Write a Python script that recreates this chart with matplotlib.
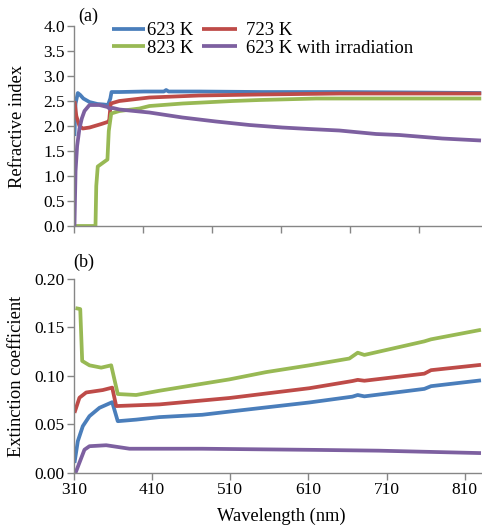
import matplotlib
matplotlib.use("Agg")
import matplotlib.pyplot as plt

plt.rcParams['font.family'] = ['Liberation Serif', 'DejaVu Serif']

# ---- (a) refractive index ----
wl_n_623 = [310.6, 312, 314.9, 318, 322, 329.8, 340, 348, 353.5, 356.5, 358, 368, 400, 425, 427.9, 431, 470, 550, 650, 750, 831]
n_623 = [1.8, 2.45, 2.66, 2.62, 2.55, 2.48, 2.44, 2.43, 2.42, 2.55, 2.68, 2.68, 2.69, 2.69, 2.72, 2.69, 2.69, 2.68, 2.68, 2.67, 2.66]

wl_n_723 = [310.6, 313, 317, 321.3, 330, 345, 352.8, 355, 357, 368, 406.5, 470, 547, 650, 831]
n_723 = [2.5, 2.2, 2.0, 1.95, 1.97, 2.04, 2.08, 2.1, 2.45, 2.5, 2.57, 2.61, 2.63, 2.65, 2.65]

wl_n_823 = [310.6, 337.5, 338.5, 340.4, 352.8, 354.5, 357.6, 368, 393.8, 406.5, 448.8, 512.7, 547, 620, 831]
n_823 = [0, 0, 0.8, 1.19, 1.33, 1.9, 2.25, 2.3, 2.35, 2.40, 2.45, 2.50, 2.52, 2.55, 2.55]

wl_n_irr = [310.6, 312, 314, 317, 320, 323.4, 329.8, 342.6, 352.8, 355.4, 360, 368.2, 406.5, 448.8, 491.8, 534.4, 576.6, 611.2, 649.5, 696.5, 726.3, 781.2, 830.7]
n_irr = [0, 1.1, 1.6, 1.95, 2.15, 2.3, 2.42, 2.42, 2.38, 2.35, 2.36, 2.33, 2.27, 2.17, 2.09, 2.02, 1.97, 1.94, 1.91, 1.84, 1.82, 1.75, 1.71]

# ---- (b) extinction coefficient ----
wl_k_623 = [310.6, 314.9, 321.3, 329.8, 342.6, 358.9, 366, 389.5, 419.3, 474, 508.9, 611.2, 666.2, 673, 681.5, 758.2, 766.8, 830.7]
k_623 = [0.0103, 0.0328, 0.0483, 0.0586, 0.0672, 0.073, 0.0534, 0.055, 0.0576, 0.060, 0.0633, 0.0727, 0.0787, 0.0804, 0.079, 0.0867, 0.0895, 0.0955]

wl_k_723 = [310.6, 317, 325.6, 346.8, 358.9, 364, 419.3, 508.9, 611.2, 666.2, 673, 681.5, 758.2, 766.8, 830.7]
k_723 = [0.062, 0.0776, 0.083, 0.0855, 0.088, 0.069, 0.0707, 0.0773, 0.0874, 0.0948, 0.096, 0.0951, 0.1024, 0.106, 0.1115]

wl_k_823 = [311.9, 318, 320.5, 329.8, 344.8, 357.6, 366, 389.5, 419.3, 474.3, 508.9, 555.8, 611.2, 662.3, 673, 681.5, 758.2, 766.8, 830.7]
k_823 = [0.170, 0.169, 0.1155, 0.111, 0.1086, 0.111, 0.0814, 0.0804, 0.0848, 0.092, 0.0965, 0.104, 0.111, 0.118, 0.124, 0.1217, 0.1357, 0.1378, 0.1476]

wl_k_irr = [311.9, 323.4, 329.8, 351.2, 381, 419.3, 474, 619.7, 700, 830.7]
k_irr = [0, 0.024, 0.0276, 0.0286, 0.025, 0.025, 0.025, 0.0238, 0.023, 0.0205]

labels = ["623 K", "723 K", "823 K", "623 K with irradiation"]
colors = ["#4A7EBB", "#BE4B48", "#98B954", "#7D60A0"]

top_ticks = [310 + 88.2 * i for i in range(6)]
bottom_ticks = [310, 410, 510, 610, 710, 810]

fig = plt.figure(figsize=(4.82, 5.29), dpi=100)
ax1 = fig.add_axes([0.1535, 0.5728, 0.8465, 0.3780])
ax2 = fig.add_axes([0.1535, 0.1059, 0.8465, 0.3667])

lw = 2.7
h = []
for wl, v, c in zip([wl_n_623, wl_n_723, wl_n_823, wl_n_irr], [n_623, n_723, n_823, n_irr], colors):
    line, = ax1.plot(wl, v, color=c, lw=lw, solid_capstyle='butt')
    h.append(line)
for wl, v, c in zip([wl_k_623, wl_k_723, wl_k_823, wl_k_irr], [k_623, k_723, k_823, k_irr], colors):
    ax2.plot(wl, v, color=c, lw=lw, solid_capstyle='butt')

for ax in (ax1, ax2):
    ax.set_xlim(310, 832)
    for s in ('top', 'right'):
        ax.spines[s].set_visible(False)
    for s in ('left', 'bottom'):
        ax.spines[s].set_color('#868686')
        ax.spines[s].set_linewidth(1.0)
    ax.tick_params(direction='out', length=5, width=1.0, color='#868686', labelsize=12.5, pad=1.5)

ax1.set_ylim(0, 4.0)
ax1.set_yticks([0, 0.5, 1.0, 1.5, 2.0, 2.5, 3.0, 3.5, 4.0])
ax1.set_yticklabels([f"{v:.1f}" for v in ax1.get_yticks()])
ax1.set_xticks(top_ticks)
ax1.set_xticklabels([])
ax1.set_ylabel("Refractive index", fontsize=13.3)
ax1.yaxis.set_label_coords(-0.118, 0.5)

ax2.set_ylim(0, 0.20)
ax2.set_yticks([0, 0.05, 0.10, 0.15, 0.20])
ax2.set_yticklabels([f"{v:.2f}" for v in ax2.get_yticks()])
ax2.set_xticks(bottom_ticks)
ax2.set_ylabel("Extinction coefficient", fontsize=13.3)
ax2.yaxis.set_label_coords(-0.12, 0.5)
ax2.set_xlabel("Wavelength (nm)", fontsize=13.3)
ax2.xaxis.set_label_coords(0.507, -0.18)

# legend laid out as two columns (Excel style spacing)
leg_kw = dict(loc='upper left', frameon=False, fontsize=13.5, labelspacing=0.02,
              borderpad=0, borderaxespad=0)
leg1 = ax1.legend([h[0], h[2]], [labels[0], labels[2]], bbox_to_anchor=(0.092, 1.02),
                  handlelength=1.78, handletextpad=0.12, **leg_kw)
ax1.add_artist(leg1)
ax1.legend([h[1], h[3]], [labels[1], labels[3]], bbox_to_anchor=(0.314, 1.02),
           handlelength=1.87, handletextpad=0.45, **leg_kw)

fig.text(0.162, 0.970, "(a)", fontsize=13, ha='left', va='center')
fig.text(0.151, 0.505, "(b)", fontsize=13, ha='left', va='center')

fig.savefig("out.png", dpi=100)
